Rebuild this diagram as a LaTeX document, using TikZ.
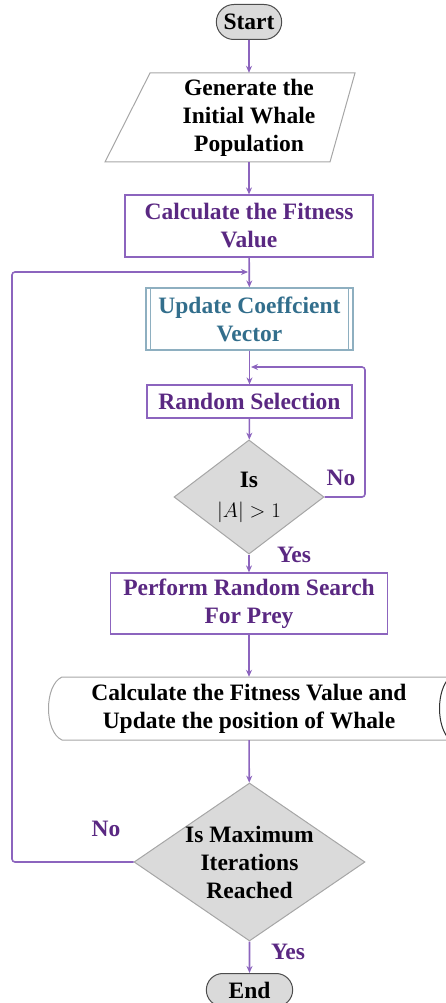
\documentclass[tikz,border=0pt]{standalone}
\usepackage{fontspec}
\setmainfont{Liberation Serif}
\usetikzlibrary{shapes.geometric, shapes.misc, arrows.meta}

\definecolor{flowline}{RGB}{140,100,190}
\definecolor{txtpurple}{RGB}{90,40,130}
\definecolor{txtteal}{RGB}{50,110,140}
\definecolor{shapegray}{RGB}{218,218,218}

\begin{document}
\begin{tikzpicture}[x=1pt, y=-1pt,
    every node/.style={font=\fontsize{23.5}{28}\selectfont\bfseries},
    term/.style={rounded rectangle, draw=gray!60!black, fill=shapegray, line width=1pt},
    procbox/.style={draw=flowline, fill=white, text=txtpurple, align=center, line width=1.2pt, minimum height=62},
    decision/.style={diamond, draw=gray!70, fill=shapegray, inner sep=0pt, align=center, line width=1pt},
    flow/.style={draw=flowline, line width=1.6pt, -{Stealth[length=7pt, width=6pt]}},
    answer/.style={text=txtpurple}]
    \useasboundingbox (0,0) rectangle (445,1003);

    % Start
    \node[term, minimum width=72, minimum height=35] (start) at (249,22) {Start};

    % Initial population (parallelogram)
    \draw[draw=gray!70, line width=1pt] (105,162) -- (150,73) -- (355,73) -- (330,162) -- cycle;
    \node[align=center, minimum height=89] (gen) at (249,117.5) {Generate the\\Initial Whale\\Population};

    % Fitness value
    \node[procbox, minimum width=248] (fit) at (249,226) {Calculate the Fitness\\Value};

    % Coefficient vector (predefined process)
    \node[procbox, draw=txtteal!55, text=txtteal, minimum width=207] (coef) at (249.5,319) {Update Coeffcient\\Vector};
    \draw[draw=txtteal!55, line width=1.2pt] ([xshift=5]coef.north west) -- ([xshift=5]coef.south west)
        ([xshift=-5]coef.north east) -- ([xshift=-5]coef.south east);

    % Random selection
    \node[procbox, minimum width=205, minimum height=33] (rsel) at (249.5,401.5) {Random Selection};

    % Test on |A|
    \node[decision, minimum width=150, minimum height=89] (isa) at (249,497)
        {Is\\[2pt]{\mdseries\fontsize{20}{22}\selectfont$|A|>1$}};

    % Search for prey
    \node[procbox, minimum width=277, minimum height=61] (prey) at (249,603.5) {Perform Random Search\\For Prey};

    % Fitness and position update (stored data)
    \draw[draw=gray!70, line width=1pt] (470,677) -- (62,677) .. controls (44,685) and (44,732) .. (62,740) -- (470,740);
    \draw[draw=black!80, line width=1pt] (450,677) .. controls (436,690) and (436,727) .. (450,740);
    \node[align=center, minimum height=63] (upd) at (249,708.5) {Calculate the Fitness Value and\\Update the position of Whale};

    % Stopping test
    \node[decision, minimum width=231, minimum height=158] (maxit) at (249.5,862) {};
    \node[align=center] (maxtxt) at (maxit) {Is Maximum\\Iterations\\Reached};

    % End
    \node[term, minimum width=93, minimum height=33] (stop) at (249.5,990) {End};

    % Arrows
    \draw[flow] (start) -- (gen);
    \draw[flow] (gen) -- (fit);
    \draw[flow] (fit) -- (coef);
    \draw[flow] (coef) -- (rsel);
    \draw[flow] (rsel) -- (isa);
    \draw[flow] (isa) -- (prey);
    \draw[flow] (prey) -- (upd);
    \draw[flow] (upd) -- (maxit);
    \draw[flow] (maxit) -- (stop);

    % Loops back
    \coordinate (join1) at (248,272);
    \coordinate (join2) at (251,367);
    \draw[flow, rounded corners=3] (maxit.west) -- (12,862) |- (join1);
    \draw[flow, rounded corners=3] (isa.east) -- (365,497) |- (join2);

    % Branch labels
    \node[answer] (no1) at (341,478) {No};
    \node[answer] (yes1) at (294,555) {Yes};
    \node[answer] (no2) at (106,829) {No};
    \node[answer] (yes2) at (288,952) {Yes};
\end{tikzpicture}
\end{document}
